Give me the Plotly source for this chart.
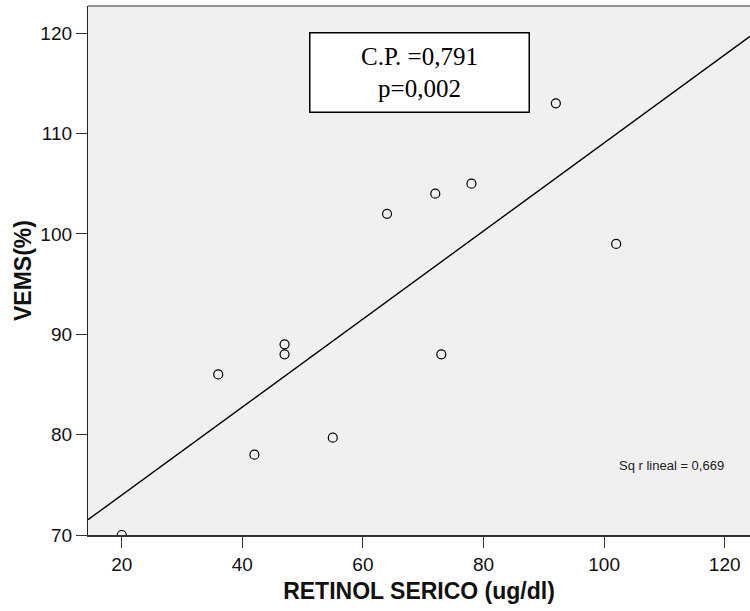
import numpy as np
import plotly.graph_objects as go

retinol = [20, 36, 42, 47, 47, 55, 64, 72, 73, 78, 92, 102]
vems = [70, 86, 78, 89, 88, 79.7, 102, 104, 88, 105, 113, 99]
x_ticks = [20, 40, 60, 80, 100, 120]
y_ticks = [70, 80, 90, 100, 110, 120]
x_range = [14.4, 124.2]
y_range = [70, 122.7]
box_text = "C.P. =0,791<br>p=0,002"
r2_text = "Sq r lineal = 0,669"

slope, intercept = np.polyfit(retinol, vems, 1)
fit_x = np.array(x_range)
fit_y = slope * fit_x + intercept

fig = go.Figure()
fig.add_trace(go.Scatter(x=fit_x, y=fit_y, mode="lines",
                         line=dict(color="black", width=1.4),
                         hoverinfo="skip", showlegend=False))
fig.add_trace(go.Scatter(x=retinol, y=vems, mode="markers",
                         marker=dict(symbol="circle-open", size=9,
                                     color="black", line=dict(width=1.2, color="black")),
                         showlegend=False))

fig.add_annotation(x=69.3, y=116.07, xref="x", yref="y", text=box_text,
                   showarrow=False, width=216, height=76,
                   bgcolor="white", bordercolor="black", borderwidth=1.5,
                   font=dict(family="Liberation Serif, Times New Roman, serif", size=25, color="black"),
                   align="center", valign="middle")
fig.add_annotation(x=111.26, y=76.9, xref="x", yref="y", text=r2_text,
                   showarrow=False,
                   font=dict(family="Liberation Sans, Arial, sans-serif", size=13, color="#222222"))

fig.add_shape(type="line", xref="paper", yref="paper", x0=0, x1=1, y0=1, y1=1,
              line=dict(color="#333333", width=1.2))

fig.update_layout(
    width=750, height=611,
    margin=dict(l=88, r=0, t=6, b=76),
    paper_bgcolor="white", plot_bgcolor="#F0F0F0",
    font=dict(family="Liberation Sans, Arial, sans-serif", color="#111111"),
    xaxis=dict(range=x_range, tickvals=x_ticks, showgrid=False, zeroline=False,
               showline=True, linecolor="#333333", linewidth=2,
               ticks="outside", ticklen=11, tickwidth=1.4, tickcolor="#333333",
               tickfont=dict(size=19),
               title=dict(text="<b>RETINOL SERICO (ug/dl)</b>", font=dict(size=23), standoff=9)),
    yaxis=dict(range=y_range, tickvals=y_ticks, showgrid=False, zeroline=False,
               showline=True, linecolor="#222222", linewidth=1.3,
               ticks="outside", ticklen=11, tickwidth=1.4, tickcolor="#333333",
               tickfont=dict(size=19),
               title=dict(text="<b>VEMS(%)</b>", font=dict(size=23), standoff=2)),
)

fig.write_html("out.html")
